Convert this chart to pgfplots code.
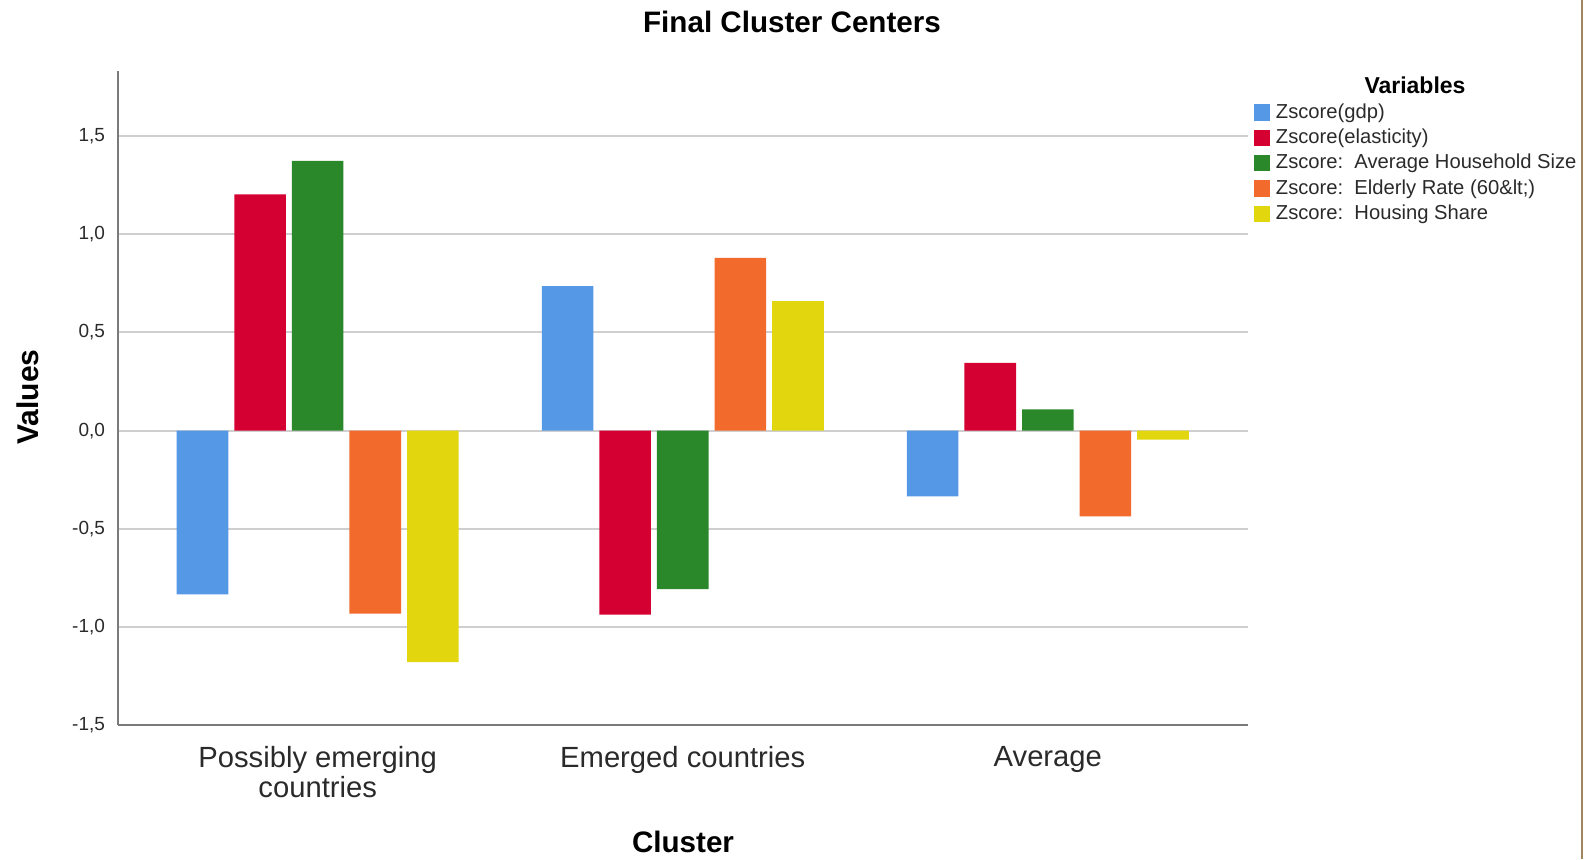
\documentclass[border=0pt]{standalone}
\usepackage{pgfplots}
\pgfplotsset{compat=1.18}
\usepackage{fontspec}
\setmainfont{Liberation Sans}
\definecolor{cblue}{HTML}{5599E6}
\definecolor{cred}{HTML}{D50032}
\definecolor{cgreen}{HTML}{2A882A}
\definecolor{corange}{HTML}{F26A2C}
\definecolor{cyellow}{HTML}{E2D70F}
\definecolor{gridc}{HTML}{CFCFCF}
\definecolor{axc}{HTML}{7A7A7A}
\definecolor{txt}{HTML}{2A2A2A}
\definecolor{frame}{HTML}{A08660}
\begin{document}
\begin{tikzpicture}
\useasboundingbox (-59pt,-67pt) rectangle (733.5pt,362.5pt);
\begin{axis}[
  scale only axis,
  width=564.75pt, height=327pt,
  xmin=-0.547, xmax=2.547,
  ymin=-1.5, ymax=1.832,
  ybar=3pt, bar width=25.8pt,
  axis x line*=bottom, axis y line*=left,
  axis line style={axc, line width=1pt, -},
  xtick=data,
  xticklabels={{Possibly emerging\\countries},{Emerged countries},{Average}},
  xticklabel style={align=center, font=\fontsize{14.6}{14.7}\selectfont, text=txt, yshift=-3pt},
  major x tick style={draw=none},
  ytick={-1.5,-1,-0.5,0,0.5,1,1.5},
  yticklabels={{-1,5},{-1,0},{-0,5},{0,0},{0,5},{1,0},{1,5}},
  yticklabel style={font=\fontsize{9.5}{11}\selectfont, text=txt, xshift=-3pt},
  major y tick style={draw=none},
  ymajorgrids, grid style={gridc, line width=1pt},
  legend style={at={(axis description cs:1.0,0.9616)}, anchor=north west, draw=none, fill=none,
    font=\fontsize{10.1}{12}\selectfont, text=txt,
    nodes={inner sep=0.8pt, text height=8pt, text depth=2.5pt},
    row sep=0.6pt, /tikz/every odd column/.append style={column sep=2pt}},
  legend cell align=left,
  legend image code/.code={\fill[#1] (0pt,-4pt) rectangle (8.2pt,4.2pt);},
]
\addplot[fill=cblue, draw=none] coordinates {(0,-0.834) (1,0.736) (2,-0.335)};
\addplot[fill=cred, draw=none] coordinates {(0,1.204) (1,-0.937) (2,0.345)};
\addplot[fill=cgreen, draw=none] coordinates {(0,1.374) (1,-0.808) (2,0.108)};
\addplot[fill=corange, draw=none] coordinates {(0,-0.932) (1,0.880) (2,-0.437)};
\addplot[fill=cyellow, draw=none] coordinates {(0,-1.179) (1,0.659) (2,-0.046)};
\legend{Zscore(gdp),Zscore(elasticity),Zscore:\ \ Average Household Size,Zscore:\ \ Elderly Rate (60\&lt;),Zscore:\ \ Housing Share}
\end{axis}
\node[font=\bfseries\fontsize{14.8}{16}\selectfont, text=black] at (337pt,351.5pt) {Final Cluster Centers};
\node[font=\bfseries\fontsize{15}{17}\selectfont, text=black, rotate=90] at (-45pt,164pt) {Values};
\node[font=\bfseries\fontsize{14.8}{16}\selectfont, text=black] at (282.5pt,-58.5pt) {Cluster};
\node[font=\bfseries\fontsize{11.5}{13}\selectfont, text=black] at (648.5pt,320pt) {Variables};
\draw[frame, line width=1.2pt] (732pt,-67pt) -- (732pt,362.5pt);
\end{tikzpicture}
\end{document}
